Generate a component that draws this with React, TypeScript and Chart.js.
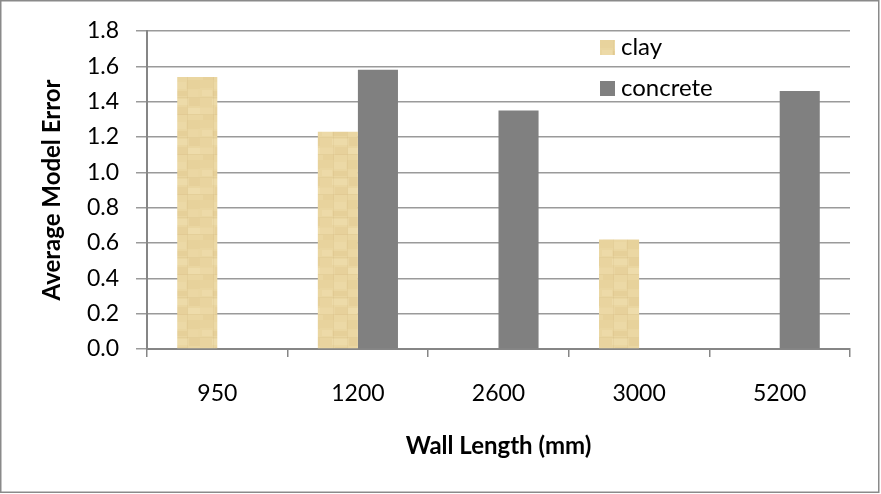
import React, { useEffect, useRef } from "react";
import { Chart, registerables } from "chart.js";

Chart.register(...registerables);

const categories = ["950", "1200", "2600", "3000", "5200"];
const seriesNames = ["clay", "concrete"];
const clayValues: (number | null)[] = [1.54, 1.23, null, 0.62, null];
const concreteValues: (number | null)[] = [null, 1.58, 1.35, null, 1.46];
const yTickValues = [0, 0.2, 0.4, 0.6, 0.8, 1.0, 1.2, 1.4, 1.6, 1.8];
const yAxisTitle = "Average Model Error";
const xAxisTitle = "Wall Length (mm)";

const FONT = "Lato, 'DejaVu Sans', sans-serif";

function makePaperPattern(ctx: CanvasRenderingContext2D): CanvasPattern | string {
  const c = document.createElement("canvas");
  c.width = 40;
  c.height = 40;
  const g = c.getContext("2d");
  if (!g) return "#E9D5A0";
  g.fillStyle = "#EAD6A1";
  g.fillRect(0, 0, 40, 40);
  const blocks: [number, number, number, number, string][] = [
    [0, 0, 13, 8, "#E8D39D"],
    [14, 2, 12, 7, "#ECD9A6"],
    [27, 0, 13, 9, "#E7D29B"],
    [2, 10, 10, 6, "#EDDAA8"],
    [13, 11, 14, 5, "#E6D099"],
    [28, 10, 10, 7, "#EBD7A3"],
    [0, 18, 12, 9, "#E9D49F"],
    [12, 19, 16, 6, "#EDDBA9"],
    [29, 18, 11, 8, "#E6D09A"],
    [0, 28, 14, 6, "#ECD8A5"],
    [15, 27, 12, 8, "#E7D19B"],
    [28, 28, 12, 6, "#EEDCAB"],
    [3, 35, 11, 5, "#E7D19A"],
    [17, 36, 14, 4, "#EAD6A1"],
  ];
  blocks.forEach(([x, y, w, h, col]) => {
    g.fillStyle = col;
    g.fillRect(x, y, w, h);
  });
  g.fillStyle = "rgba(190,160,100,0.12)";
  g.fillRect(0, 17, 40, 1);
  g.fillRect(13, 0, 1, 40);
  g.fillRect(0, 34, 40, 1);
  g.fillRect(27, 0, 1, 40);
  return ctx.createPattern(c, "repeat") || "#E9D5A0";
}

export default function App() {
  const canvasRef = useRef<HTMLCanvasElement | null>(null);

  useEffect(() => {
    document.body.style.margin = "0";
    const canvas = canvasRef.current;
    if (!canvas) return;
    const ctx = canvas.getContext("2d");
    if (!ctx) return;
    const paper = makePaperPattern(ctx);
    const colors = [paper, "#808080"];

    const legendPlugin = {
      id: "inplotLegend",
      afterDatasetsDraw(chart: any) {
        const c = chart.ctx;
        c.save();
        const rows = [47.5, 88.5];
        seriesNames.forEach((name, i) => {
          c.fillStyle = colors[i] as any;
          c.fillRect(600, rows[i] - 7.5, 15, 15);
          c.fillStyle = "#000";
          c.font = `24px ${FONT}`;
          c.textBaseline = "middle";
          c.textAlign = "left";
          c.fillText(name, 621, rows[i]);
        });
        c.restore();
      },
    };

    const borderPlugin = {
      id: "outerBorder",
      afterDraw(chart: any) {
        const c = chart.ctx;
        c.save();
        c.strokeStyle = "#8A8A8A";
        c.lineWidth = 1.5;
        c.strokeRect(0.75, 0.75, 878, 491.5);
        c.restore();
      },
    };

    const chart = new Chart(canvas, {
      type: "bar",
      data: {
        labels: categories,
        datasets: [
          {
            label: seriesNames[0],
            data: clayValues as any,
            backgroundColor: paper as any,
            borderWidth: 0,
            categoryPercentage: 0.57,
            barPercentage: 1,
          },
          {
            label: seriesNames[1],
            data: concreteValues as any,
            backgroundColor: "#808080",
            borderWidth: 0,
            categoryPercentage: 0.57,
            barPercentage: 1,
          },
        ],
      },
      options: {
        responsive: false,
        animation: false,
        devicePixelRatio: 1,
        layout: { padding: { top: 31, right: 31, bottom: 0, left: 0 } },
        plugins: {
          legend: { display: false },
          tooltip: { enabled: false },
        },
        scales: {
          x: {
            offset: true,
            grid: {
              display: true,
              offset: true,
              drawOnChartArea: false,
              drawTicks: true,
              tickLength: 8,
              color: "#868686",
              lineWidth: 1.5,
            },
            border: { display: true, color: "#868686", width: 2 },
            ticks: {
              font: { family: FONT, size: 23 },
              color: "#000",
              padding: 23,
            },
            title: {
              display: true,
              text: xAxisTitle,
              font: { family: FONT, size: 24, weight: "bold" },
              color: "#000",
              padding: { top: 0, bottom: 33 },
            },
            afterFit: (s: any) => {
              s.height = 145;
            },
          },
          y: {
            min: 0,
            max: 1.8,
            afterBuildTicks: (s: any) => {
              s.ticks = yTickValues.map((v) => ({ value: v }));
            },
            ticks: {
              font: { family: FONT, size: 23 },
              color: "#000",
              padding: 17,
              callback: (v: any) => Number(v).toFixed(1),
            },
            grid: {
              color: "#9A9A9A",
              lineWidth: 1.5,
              drawTicks: true,
              tickLength: 11,
            },
            border: { display: true, color: "#868686", width: 2 },
            title: {
              display: true,
              text: yAxisTitle,
              font: { family: FONT, size: 24, weight: "bold" },
              color: "#000",
              padding: { top: 38, bottom: 0 },
            },
            afterFit: (s: any) => {
              s.width = 147;
            },
          },
        },
      } as any,
      plugins: [legendPlugin, borderPlugin],
    });

    return () => {
      chart.destroy();
    };
  }, []);

  return (
    <canvas
      ref={canvasRef}
      width={881}
      height={494}
      style={{ display: "block", width: 881, height: 494 }}
    />
  );
}
